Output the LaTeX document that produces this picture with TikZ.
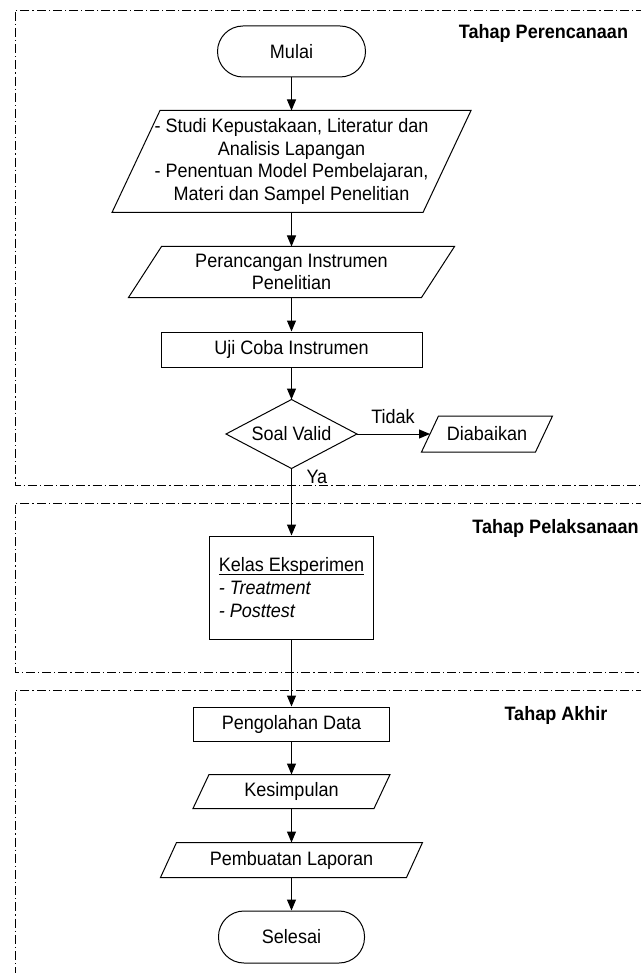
\documentclass[tikz,border=0pt]{standalone}
\usepackage{fontspec}
\setmainfont[FakeStretch=0.93]{Liberation Sans}
\usetikzlibrary{arrows.meta}
\newcommand\paragon[2]{%
  \draw ([xshift=#2/2]#1.north west) -- ([xshift=#2/2]#1.north east)
     -- ([xshift=-#2/2]#1.south east) -- ([xshift=-#2/2]#1.south west) -- cycle;}
\newcommand\ulfix[1]{\setbox0\hbox{#1}\rlap{\rule[-2.8pt]{\wd0}{0.9pt}}\box0}
\begin{document}
\begin{tikzpicture}[x=1pt,y=-1pt,
  font=\fontsize{19.4}{22.7}\selectfont,
  line width=1pt,
  arr/.style={-{Triangle[length=11pt,width=9pt]}},
  framebox/.style={dash pattern=on 9pt off 3pt on 1.2pt off 3pt, line width=0.9pt},
  term/.style={draw, rectangle, rounded corners=25.5pt, inner sep=0pt},
  proc/.style={draw, rectangle, inner sep=0pt},
  io/.style={rectangle, inner sep=0pt, align=center},
  lbl/.style={font=\fontsize{19.4}{22}\selectfont\bfseries},
  small/.style={inner sep=0pt}
]
\useasboundingbox (0,0) rectangle (640,973);

% stage frames
\draw[framebox] (645,10) -- (15,10) -- (15,485) -- (645,485);
\draw[framebox] (645,503) -- (15,503) -- (15,672) -- (645,672);
\draw[framebox] (645,690) -- (15,690) -- (15,980);

\node[lbl] (l1) at (543.5,33) {Tahap Perencanaan};
\node[lbl] (l2) at (555.5,528) {Tahap Pelaksanaan};
\node[lbl] (l3) at (556,715) {Tahap Akhir};

% flow
\node[term, minimum width=148pt, minimum height=51pt] (mulai) at (291.5,51.5) {Mulai};
\node[io, minimum width=310pt, minimum height=101pt] (studi) at (291.5,161.5)
  {- Studi Kepustakaan, Literatur dan\\Analisis Lapangan\\- Penentuan Model Pembelajaran,\\Materi dan Sampel Penelitian};
\paragon{studi}{48pt}
\node[io, minimum width=292pt, minimum height=50pt] (ranc) at (291.5,272)
  {Perancangan Instrumen\\Penelitian};
\paragon{ranc}{33pt}
\node[proc, minimum width=261pt, minimum height=35pt] (uji) at (291.5,349.5) {Uji Coba Instrumen};
\node[rectangle, inner sep=0pt, minimum width=130pt, minimum height=68pt] (valid) at (291.5,434) {Soal Valid};
\draw (valid.north) -- (valid.east) -- (valid.south) -- (valid.west) -- cycle;
\node[io, minimum width=113pt, minimum height=35pt] (diab) at (487,434) {Diabaikan};
\paragon{diab}{17pt}
\node[proc, minimum width=164pt, minimum height=103pt, align=left] (kelas) at (291.5,587.5)
  {\ulfix{Kelas Eksperimen}\\\textit{- Treatment}\\\textit{- Posttest}};
\node[proc, minimum width=196pt, minimum height=34pt] (olah) at (291.5,724) {Pengolahan Data};
\node[io, minimum width=180pt, minimum height=33pt] (simp) at (291.5,791.5) {Kesimpulan};
\paragon{simp}{16pt}
\node[io, minimum width=245pt, minimum height=34pt] (lapor) at (291.5,860) {Pembuatan Laporan};
\paragon{lapor}{16pt}
\node[term, minimum width=146pt, minimum height=52pt] (selesai) at (291.5,937) {Selesai};

% connectors
\draw[arr] (mulai.south) -- (studi.north);
\draw[arr] (studi.south) -- (ranc.north);
\draw[arr] (ranc.south) -- (uji.north);
\draw[arr] (uji.south) -- (valid.north);
\draw[arr] (valid.east) -- (diab.west);
\draw[arr] (valid.south) -- (kelas.north);
\draw[arr] (kelas.south) -- (olah.north);
\draw[arr] (olah.south) -- (simp.north);
\draw[arr] (simp.south) -- (lapor.north);
\draw[arr] (lapor.south) -- (selesai.north);

\node[small] (tidak) at (393,417) {Tidak};
\node[small, anchor=west] (ya) at (306,477) {Ya};
\end{tikzpicture}
\end{document}
